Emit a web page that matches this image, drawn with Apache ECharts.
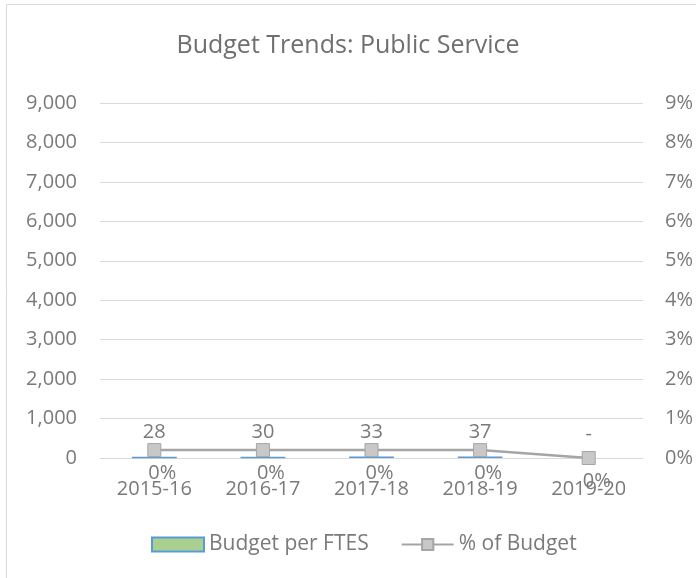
<!DOCTYPE html>
<html>
<head>
<meta charset="utf-8">
<script src="https://cdn.jsdelivr.net/npm/echarts@6/dist/echarts.min.js"></script>
<style>
html,body{margin:0;padding:0;background:#fff;}
#chart{width:696px;height:578px;}
</style>
</head>
<body>
<div id="chart"></div>
<script>
const categories = ['2015-16', '2016-17', '2017-18', '2018-19', '2019-20'];
const budgetPerFTES = [28, 30, 33, 37, 0];
const pctOfBudget = [0.002, 0.002, 0.002, 0.002, 0];
const leftTicks = { min: 0, max: 9000, interval: 1000 };
const rightTicks = { min: 0, max: 0.09, interval: 0.01 };

const FONT = '"Open Sans", "DejaVu Sans", sans-serif';
const TXT = '#7a7a7a';
const chart = echarts.init(document.getElementById('chart'), null, { renderer: 'canvas' });

const barData = budgetPerFTES.map(v => v === 0
  ? { value: v, itemStyle: { borderWidth: 0 } }
  : { value: v });

chart.setOption({
  backgroundColor: '#ffffff',
  animation: false,
  graphic: [{
    type: 'rect',
    shape: { x: 6.5, y: 4.5, width: 800, height: 800 },
    style: { fill: 'none', stroke: '#d9d9d9', lineWidth: 1 },
    silent: true
  }],
  title: {
    text: 'Budget Trends: Public Service',
    left: 'center',
    top: 28,
    textStyle: { fontFamily: FONT, fontSize: 25, fontWeight: 'normal', color: '#6f6f6f' }
  },
  grid: { left: 100, right: 51, top: 103, bottom: 120, containLabel: false },
  legend: {
    left: 146,
    top: 529,
    itemWidth: 52,
    itemHeight: 14,
    itemGap: 32,
    textStyle: { fontFamily: FONT, fontSize: 21, color: TXT },
    data: [
      { name: 'Budget per FTES', icon: 'rect', itemStyle: { color: '#a9d08e', borderColor: '#5b9bd5', borderWidth: 2 } },
      { name: '% of Budget' }
    ]
  },
  xAxis: {
    type: 'category',
    data: categories,
    axisTick: { show: false },
    axisLine: { lineStyle: { color: '#d9d9d9', width: 1 } },
    axisLabel: { fontFamily: FONT, fontSize: 20, color: TXT, margin: 21 }
  },
  yAxis: [{
    type: 'value',
    min: leftTicks.min, max: leftTicks.max, interval: leftTicks.interval,
    axisLine: { show: false }, axisTick: { show: false },
    splitLine: { lineStyle: { color: '#d9d9d9', width: 1 } },
    axisLabel: {
      fontFamily: FONT, fontSize: 20, color: TXT, margin: 23,
      formatter: v => v.toLocaleString('en-US')
    }
  }, {
    type: 'value',
    min: rightTicks.min, max: rightTicks.max, interval: rightTicks.interval,
    axisLine: { show: false }, axisTick: { show: false },
    splitLine: { show: false },
    axisLabel: {
      fontFamily: FONT, fontSize: 20, color: TXT, margin: 22,
      formatter: v => Math.round(v * 100) + '%'
    }
  }],
  series: [{
    name: 'Budget per FTES',
    type: 'bar',
    data: barData,
    barWidth: 46,
    itemStyle: { color: '#a9d08e', borderColor: '#5b9bd5', borderWidth: 1.5 },
    label: {
      show: true, position: 'top', distance: 14,
      fontFamily: FONT, fontSize: 20, color: TXT,
      formatter: p => p.value === 0 ? '-' : String(p.value)
    }
  }, {
    name: '% of Budget',
    type: 'line',
    yAxisIndex: 1,
    data: pctOfBudget,
    symbol: 'rect',
    symbolSize: 13,
    lineStyle: { color: '#a5a5a5', width: 2.5 },
    itemStyle: { color: '#c8c8c8', borderColor: '#a5a5a5', borderWidth: 1 },
    label: {
      show: true, position: 'bottom', distance: 6, offset: [8, 0],
      fontFamily: FONT, fontSize: 20, color: TXT,
      formatter: p => Math.round(p.value * 100) + '%'
    },
    z: 5
  }]
});
</script>
</body>
</html>
